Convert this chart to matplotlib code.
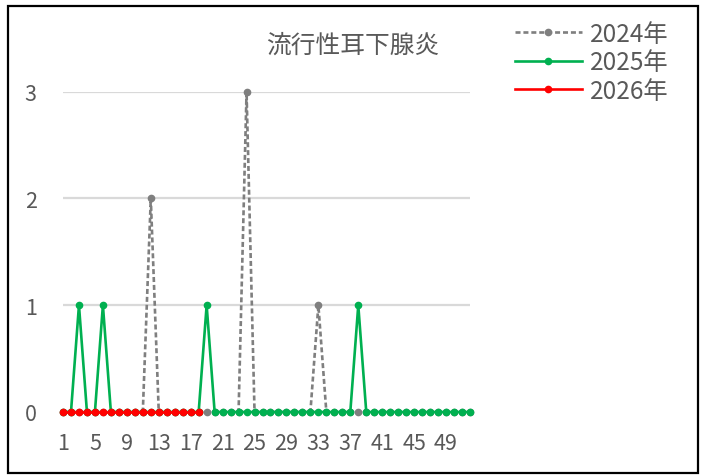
import matplotlib
matplotlib.use('Agg')
import matplotlib.pyplot as plt
from matplotlib.patches import Rectangle

plt.rcParams['font.family'] = ['Noto Sans CJK JP', 'DejaVu Sans']

# weekly counts
weeks_2024 = list(range(1, 53))
cases_2024 = [0] * 52
cases_2024[11] = 2   # week 12
cases_2024[23] = 3   # week 24
cases_2024[32] = 1   # week 33

weeks_2025 = list(range(1, 53))
cases_2025 = [0] * 52
cases_2025[2] = 1    # week 3
cases_2025[5] = 1    # week 6
cases_2025[18] = 1   # week 19
cases_2025[37] = 1   # week 38

weeks_2026 = list(range(1, 19))
cases_2026 = [0] * 18

x_ticks = list(range(1, 53, 4))
y_ticks = [0, 1, 2, 3]
title = '流行性耳下腺炎'
labels = ['2024年', '2025年', '2026年']

text_col = '#595959'

fig = plt.figure(figsize=(7.05, 4.77), dpi=100)
ax = fig.add_axes([63 / 705, 64 / 477, 407 / 705, 320.3 / 477])

ax.plot(weeks_2024, cases_2024, color='#7f7f7f', lw=1.9, ls=(0, (1.9, 1.1)),
        marker='o', ms=4.5, label=labels[0], clip_on=False, zorder=3)
ax.plot(weeks_2025, cases_2025, color='#00b050', lw=1.9,
        marker='o', ms=4.5, label=labels[1], clip_on=False, zorder=4)
ax.plot(weeks_2026, cases_2026, color='#ff0000', lw=1.9,
        marker='o', ms=4.5, label=labels[2], clip_on=False, zorder=5)

ax.set_xlim(1, 52)
ax.set_ylim(0, 3)
ax.set_xticks(x_ticks)
ax.set_yticks(y_ticks)
ax.tick_params(length=0, labelsize=15.5, labelcolor=text_col)
ax.tick_params(axis='y', pad=19)
ax.tick_params(axis='x', pad=14.5)
ax.grid(axis='y', color='#d9d9d9', lw=1.6)
ax.set_axisbelow(True)
for s in ax.spines.values():
    s.set_visible(False)

fig.text(353 / 705, 1 - 46 / 477, title, ha='center', va='center',
         fontsize=17.8, color=text_col)

leg = ax.legend(loc='upper left', bbox_to_anchor=(515 / 705, 1 - 22 / 477),
                bbox_transform=fig.transFigure, frameon=False, fontsize=17.5,
                handlelength=2.75, handletextpad=0.32, labelspacing=0.1,
                borderpad=0, borderaxespad=0)
for t in leg.get_texts():
    t.set_color(text_col)

# outer frame
fig.patches.append(Rectangle((8 / 705, 3 / 477), 690 / 705, 467 / 477,
                             transform=fig.transFigure, fill=False,
                             edgecolor='black', lw=1.6))

fig.savefig('out.png', dpi=100)
